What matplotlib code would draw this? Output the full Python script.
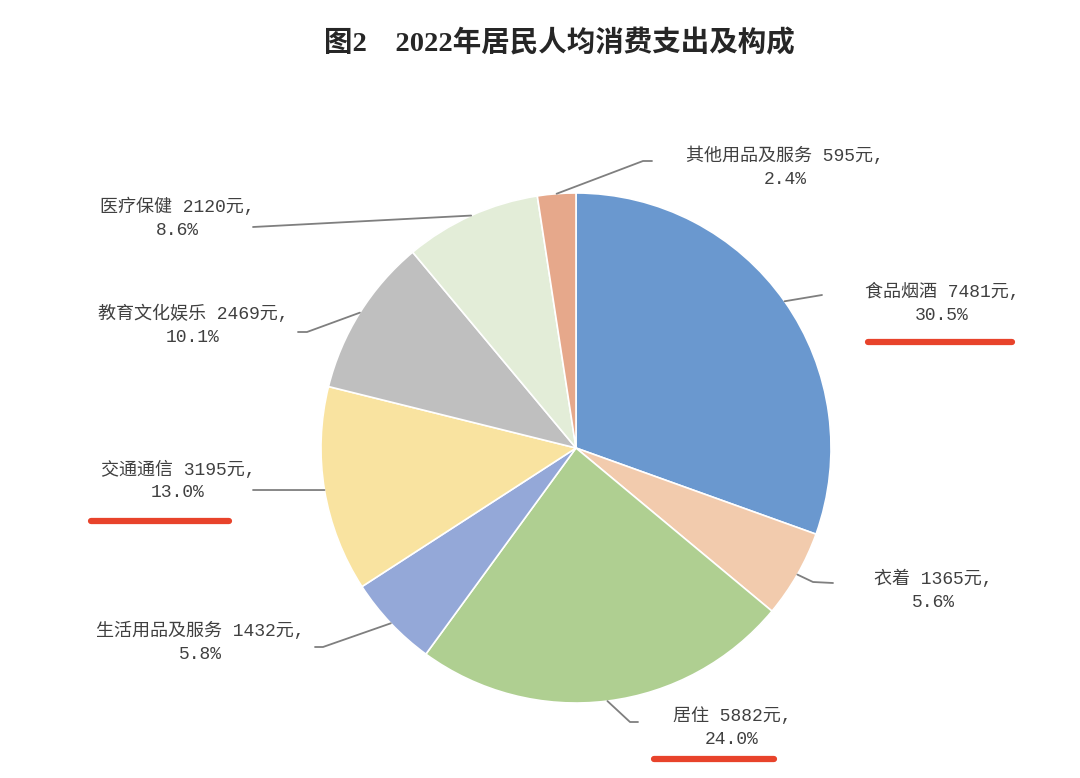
import numpy as np
import matplotlib
matplotlib.use("Agg")
import matplotlib.pyplot as plt

# ---- data ----
categories = ["食品烟酒", "衣着", "居住", "生活用品及服务", "交通通信",
              "教育文化娱乐", "医疗保健", "其他用品及服务"]
values = [7481, 1365, 5882, 1432, 3195, 2469, 2120, 595]
percents = [30.5, 5.6, 24.0, 5.8, 13.0, 10.1, 8.6, 2.4]
highlighted = ["食品烟酒", "居住", "交通通信"]
title = "图2    2022年居民人均消费支出及构成"

# ---- style ----
colors = ["#6A98CF", "#F2CBAD", "#AFCF91", "#94A8D8", "#F9E3A0",
          "#BFBFBF", "#E3EDD8", "#E6A88B"]
W, H = 1080, 778
CX, CY, R = 576, 448, 255  # pixel layout (y from top)

# label layout (pixels, y from top): text block center, elbow, end of leader
label_pos = [(942, 303), (933, 590), (732, 728), (200, 642),
             (178, 481), (193, 325), (177, 218), (785, 167)]
elbows = [(822, 295), (813, 582), (630, 722), (323, 647),
          (253, 490), (307, 332), (253, 227), (643, 161)]
ends = [(822, 295), (833, 583), (638, 722), (315, 647),
        (253, 490), (298, 332), (253, 227), (652, 161)]
underlines = {"食品烟酒": (868, 1012, 342), "交通通信": (91, 229, 521),
              "居住": (654, 774, 759)}

fig = plt.figure(figsize=(W / 100, H / 100), dpi=100)
ax = fig.add_axes([0, 0, 1, 1])
ax.set_xlim(0, W)
ax.set_ylim(0, H)
ax.set_aspect("equal")
ax.axis("off")

def fy(y):
    return H - y

wedges, _ = ax.pie(values, colors=colors, startangle=90, counterclock=False,
                   radius=R, center=(CX, fy(CY)),
                   wedgeprops=dict(edgecolor="white", linewidth=1.2))
ax.set_xlim(0, W)
ax.set_ylim(0, H)

label_font = ["Liberation Mono", "Noto Sans CJK SC"]
for i, w in enumerate(wedges):
    mid = np.deg2rad((w.theta1 + w.theta2) / 2)
    ex = CX + R * np.cos(mid)
    ey = fy(CY) + R * np.sin(mid)
    xs = [ex, elbows[i][0], ends[i][0]]
    ys = [ey, fy(elbows[i][1]), fy(ends[i][1])]
    ax.plot(xs, ys, color="#7F7F7F", lw=1.3, solid_capstyle="round")
    tx, ty = label_pos[i]
    ax.text(tx, fy(ty), f"{categories[i]} {values[i]}元,\n{percents[i]:.1f}%",
            ha="center", va="center", multialignment="center",
            fontsize=13, color="#404040", family=label_font, linespacing=1.45)

for name in highlighted:
    x0, x1, y = underlines[name]
    ax.plot([x0, x1], [fy(y), fy(y)], color="#E8432B", lw=4.5,
            solid_capstyle="round")

fig.text(559 / W, 1 - 43 / H, title, ha="center", va="center",
         fontsize=20.5, fontweight="bold", color="#262626",
         family=["Liberation Serif", "Noto Sans CJK SC"])

fig.savefig("out.png", dpi=100, facecolor="white")
